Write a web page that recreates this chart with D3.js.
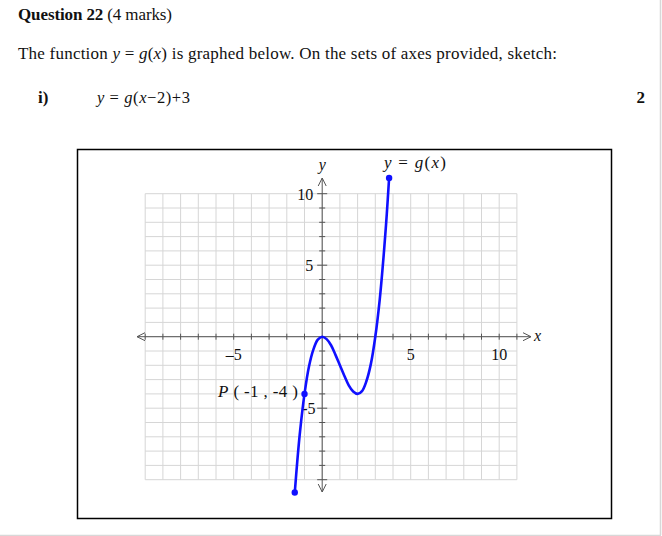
<!DOCTYPE html>
<html><head><meta charset="utf-8">
<script src="https://cdn.jsdelivr.net/npm/d3@7"></script>
<style>
html,body{margin:0;padding:0;background:#fff;}
svg{display:block;}
text{font-family:"Liberation Serif","Times New Roman",serif;fill:#111;}
</style></head>
<body>
<script>
// ---- data ----
const curveX = [-1.55, -1.4, -1.25, -1, -0.75, -0.5, -0.25, 0, 0.25, 0.5, 0.75, 1, 1.25, 1.5, 1.75, 2, 2.25, 2.5, 2.75, 3, 3.25, 3.5, 3.65, 3.78];
const curveY = [-10.9, -8.6, -6.6, -4, -2.1, -0.9, -0.2, 0, -0.17, -0.6, -1.27, -2, -2.73, -3.4, -3.83, -4, -3.8, -3.1, -1.9, 0, 2.6, 6.1, 8.6, 11.1];
const dotX = [-1.55, -1, 3.78];
const dotY = [-10.9, -4, 11.1];
const xTickLabels = [-5, 5, 10];
const yTickLabels = [10, 5, -5];
const gridXRange = [-10, 11];
const gridYRange = [-10, 10];

const W = 662, H = 536;
const svg = d3.select("body").append("svg").attr("width", W).attr("height", H);

// page frame
svg.append("line").attr("x1", 660.5).attr("x2", 660.5).attr("y1", 0).attr("y2", 535).attr("stroke", "#d8d8d8").attr("stroke-width", 1.5);
svg.append("line").attr("x1", 0).attr("x2", 661).attr("y1", 535.5).attr("y2", 535.5).attr("stroke", "#d8d8d8").attr("stroke-width", 1.5);

function fit(sel, len) { sel.attr("textLength", len).attr("lengthAdjust", "spacing"); return sel; }

// header text
const t1 = svg.append("text").attr("x", 18).attr("y", 20).style("font-size", "17px");
t1.append("tspan").style("font-weight", "bold").text("Question 22");
t1.append("tspan").text(" (4 marks)");
fit(t1, 154);

const t2 = svg.append("text").attr("x", 18).attr("y", 59).style("font-size", "17px");
t2.append("tspan").text("The function  ");
t2.append("tspan").style("font-style", "italic").text("y");
t2.append("tspan").text(" = ");
t2.append("tspan").style("font-style", "italic").text("g");
t2.append("tspan").text("(");
t2.append("tspan").style("font-style", "italic").text("x");
t2.append("tspan").text(")  is graphed below. On the sets of axes provided, sketch:");
fit(t2, 539);

svg.append("text").attr("x", 38).attr("y", 103).style("font-size", "17px").style("font-weight", "bold").text("i)");
const t3 = svg.append("text").attr("x", 97).attr("y", 103).style("font-size", "16.5px");
t3.append("tspan").style("font-style", "italic").text("y");
t3.append("tspan").text(" = ");
t3.append("tspan").style("font-style", "italic").text("g");
t3.append("tspan").text("(");
t3.append("tspan").style("font-style", "italic").text("x");
t3.append("tspan").text("\u22122)+3");
fit(t3, 93);
svg.append("text").attr("x", 645).attr("y", 103).attr("text-anchor", "end").style("font-size", "17px").style("font-weight", "bold").text("2");

// box
svg.append("rect").attr("x", 77.5).attr("y", 149.5).attr("width", 534).attr("height", 369)
  .attr("fill", "none").attr("stroke", "#000").attr("stroke-width", 1.5);

// scales
const x = d3.scaleLinear().domain([0, 10]).range([322.2, 499.2]);
const y = d3.scaleLinear().domain([0, 10]).range([336.7, 193.7]);

// grid
const g = svg.append("g");
const xs = d3.range(gridXRange[0], gridXRange[1] + 1);
const ys = d3.range(gridYRange[0], gridYRange[1] + 1);
g.selectAll(".gv").data(xs).join("line")
  .attr("x1", d => x(d)).attr("x2", d => x(d))
  .attr("y1", y(gridYRange[1])).attr("y2", y(gridYRange[0]))
  .attr("stroke", "#d6d6d6").attr("stroke-width", 1);
g.selectAll(".gh").data(ys).join("line")
  .attr("y1", d => y(d)).attr("y2", d => y(d))
  .attr("x1", x(gridXRange[0])).attr("x2", x(gridXRange[1]))
  .attr("stroke", "#d6d6d6").attr("stroke-width", 1);

// axes
const ax = svg.append("g").attr("stroke", "#555").attr("stroke-width", 1).attr("fill", "none");
const xL = 137, xR = 531, yT = 178, yB = 492;
ax.append("line").attr("x1", xL).attr("x2", xR).attr("y1", y(0)).attr("y2", y(0));
ax.append("line").attr("x1", x(0)).attr("x2", x(0)).attr("y1", yT).attr("y2", yB);
ax.append("path").attr("d", `M${xL + 8},${y(0) - 4} L${xL},${y(0)} L${xL + 8},${y(0) + 4}`);
ax.append("path").attr("d", `M${xR - 8},${y(0) - 4} L${xR},${y(0)} L${xR - 8},${y(0) + 4}`);
ax.append("path").attr("d", `M${x(0) - 4},${yT + 8} L${x(0)},${yT} L${x(0) + 4},${yT + 8}`);
ax.append("path").attr("d", `M${x(0) - 4},${yB - 8} L${x(0)},${yB} L${x(0) + 4},${yB - 8}`);
ax.selectAll(".tx").data(xs.filter(d => d !== 0)).join("line")
  .attr("x1", d => x(d)).attr("x2", d => x(d)).attr("y1", y(0) - 3).attr("y2", y(0) + 3);
ax.selectAll(".ty").data(ys.filter(d => d !== 0)).join("line")
  .attr("y1", d => y(d)).attr("y2", d => y(d))
  .attr("x1", d => x(0) - (d % 5 === 0 ? 5 : 3)).attr("x2", d => x(0) + (d % 5 === 0 ? 5 : 3));

// tick labels
svg.selectAll(".xl").data(xTickLabels).join("text")
  .attr("x", d => x(d)).attr("y", y(0) + 23).attr("text-anchor", "middle")
  .style("font-size", "16px").text(d => d < 0 ? "\u2013" + (-d) : d);
svg.selectAll(".yl").data(yTickLabels).join("text")
  .attr("x", d => d < 0 ? x(0) - 20 : x(0) - 8).attr("y", d => y(d) + 6).attr("text-anchor", "start")
  .attr("dx", d => d < 0 ? 0 : (d >= 10 ? -17 : -9))
  .style("font-size", "16px").text(d => d < 0 ? "-" + (-d) : d);

// axis names
svg.append("text").attr("x", x(0)).attr("y", 170).attr("text-anchor", "middle")
  .style("font-size", "16px").style("font-style", "italic").text("y");
svg.append("text").attr("x", 534).attr("y", 341)
  .style("font-size", "16px").style("font-style", "italic").text("x");

// curve
const pts = curveX.map((d, i) => [d, curveY[i]]);
svg.append("path").datum(pts)
  .attr("d", d3.line().x(d => x(d[0])).y(d => y(d[1])).curve(d3.curveCatmullRom.alpha(0.5)))
  .attr("fill", "none").attr("stroke", "#1010ff").attr("stroke-width", 2.6).attr("stroke-linecap", "round");
svg.selectAll(".dot").data(dotX.map((d, i) => [d, dotY[i]])).join("circle")
  .attr("cx", d => x(d[0])).attr("cy", d => y(d[1])).attr("r", 3.2).attr("fill", "#1010ff");

// curve labels
const lg = svg.append("text").attr("x", 384).attr("y", 168).style("font-size", "17px");
lg.append("tspan").style("font-style", "italic").text("y");
lg.append("tspan").text(" = ");
lg.append("tspan").style("font-style", "italic").text("g");
lg.append("tspan").text("(");
lg.append("tspan").style("font-style", "italic").text("x");
lg.append("tspan").text(")");
fit(lg, 62);

const pl = svg.append("text").attr("x", 218).attr("y", 397).style("font-size", "17px");
pl.append("tspan").style("font-style", "italic").text("P");
pl.append("tspan").text(" ( -1 , -4 )");
fit(pl, 80);
</script>
</body></html>
